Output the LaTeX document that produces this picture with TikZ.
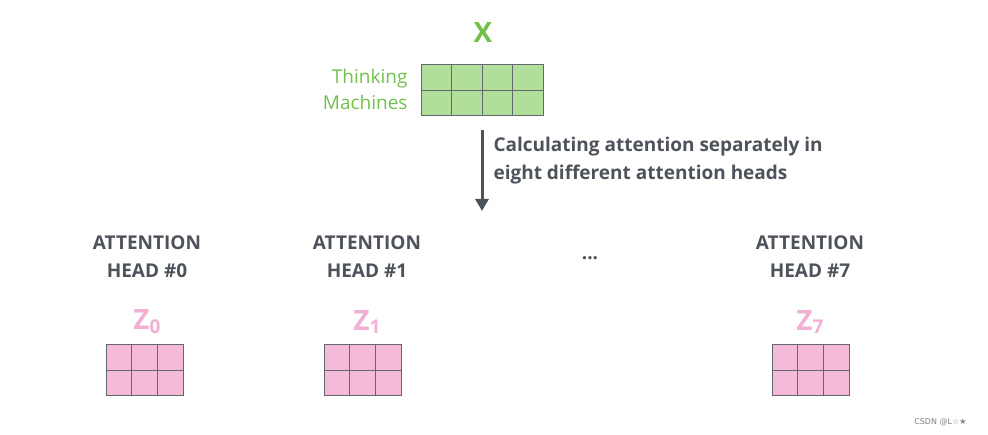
\documentclass[tikz,border=0pt]{standalone}
\usepackage{fontspec}
\setmainfont{Open Sans}
\newfontfamily\djv{DejaVu Sans}
\usetikzlibrary{arrows.meta}
\definecolor{gtxt}{RGB}{112,192,76}
\definecolor{gfill}{RGB}{178,222,156}
\definecolor{pfill}{RGB}{244,186,216}
\definecolor{ptxt}{RGB}{242,176,210}
\definecolor{dtxt}{RGB}{78,82,90}
\definecolor{grid}{RGB}{100,104,110}
\begin{document}
\begin{tikzpicture}[x=1pt,y=-1pt,
  head/.style={font=\fontsize{19}{28}\selectfont\bfseries, text=dtxt, align=center},
  zlab/.style={font=\fontsize{28}{30}\selectfont\bfseries, text=ptxt},
  pm/.style={fill=pfill, draw=grid, line width=1pt}]
\useasboundingbox (0,0) rectangle (988,435);
% X matrix
\node[font=\fontsize{28}{30}\selectfont\bfseries, text=gtxt] (x) at (483,33) {X};
\draw[fill=gfill, draw=grid, line width=1pt] (421,65) rectangle (543,116);
\draw[grid, line width=1pt] (421,90.5) -- (543,90.5)
  (451.5,65) -- (451.5,116) (482,65) -- (482,116) (512.5,65) -- (512.5,116);
\node[font=\fontsize{19}{26}\selectfont, text=gtxt, align=right, anchor=east] (tm) at (411,89) {Thinking\\Machines};
% arrow
\coordinate (a1) at (482,130);
\coordinate (a2) at (482,211);
\draw[dtxt, line width=3pt, -{Triangle[length=12pt,width=13pt]}] (a1) -- (a2);
\node[font=\fontsize{19}{28}\selectfont\bfseries, text=dtxt, align=left, anchor=west] (calc) at (490,161) {Calculating attention separately in\\eight different attention heads};
% heads
\node[head] (h0) at (147,257) {ATTENTION\\HEAD \#0};
\node[head] (h1) at (367,257) {ATTENTION\\HEAD \#1};
\node[head] (h7) at (810,257) {ATTENTION\\HEAD \#7};
\node[head] (dots) at (590,258) {...};
\node[zlab] (z0) at (147,322) {Z\raisebox{-0.25ex}{\fontsize{19}{20}\selectfont 0}};
\node[zlab] (z1) at (367,322) {Z\raisebox{-0.25ex}{\fontsize{19}{20}\selectfont 1}};
\node[zlab] (z7) at (810,322) {Z\raisebox{-0.25ex}{\fontsize{19}{20}\selectfont 7}};
\foreach \x in {106,324,772}{
  \draw[pm] (\x,345) rectangle (\x+77,396);
  \draw[grid, line width=1pt] (\x,370.5) -- (\x+77,370.5)
    (\x+25.67,345) -- (\x+25.67,396) (\x+51.33,345) -- (\x+51.33,396);
}
\node[font=\djv\fontsize{8}{9}\selectfont, text=gray, anchor=east] (wm) at (970,422) {CSDN @L☆★};
\end{tikzpicture}
\end{document}
